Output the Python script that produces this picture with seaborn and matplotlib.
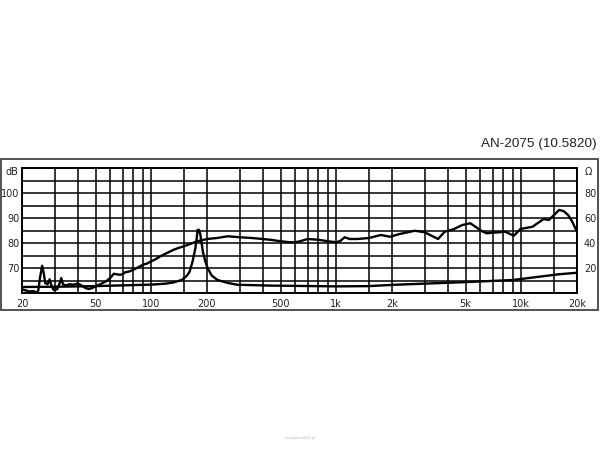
import matplotlib
matplotlib.use('Agg')
import matplotlib.pyplot as plt
from matplotlib.patches import Rectangle
from matplotlib.ticker import NullLocator
import seaborn as sns

# frequency response (left axis, dB)
fr_freq = [20, 21, 22, 23, 24, 24.5, 25, 25.7, 26.2, 26.7, 27.5, 28.2, 29, 29.7, 31, 32, 32.6,
           33.3, 34.5, 36, 38, 40, 42, 44, 46, 48, 50, 53, 57, 60, 62.7, 65, 67.7, 70, 72.3,
           76, 80, 85, 90, 95, 100, 106, 112, 120, 132, 140, 150, 165, 177, 190, 200, 227,
           259, 300, 350, 400, 450, 500, 560, 600, 637, 700, 800, 900, 1000, 1050, 1110,
           1180, 1300, 1500, 1740, 1950, 2200, 2660, 3000, 3550, 3850, 4300, 4800, 5300,
           6100, 6500, 7600, 8200, 9100, 9900, 11500, 13200, 14100, 16000, 16900, 17900,
           18800, 20000]
fr_db = [61.5, 61.0, 60.6, 60.8, 60.2, 61.0, 66.0, 70.9, 68.0, 64.0, 63.5, 65.5, 62.5, 61.2,
         61.5, 64.0, 66.0, 63.5, 63.0, 63.5, 63.3, 63.8, 63.0, 62.0, 61.6, 62.0, 62.7, 63.5,
         64.7, 66.0, 67.7, 67.5, 67.3, 67.5, 68.3, 68.6, 69.3, 70.3, 71.3, 71.8, 72.7, 73.6,
         74.7, 75.8, 77.3, 78.0, 78.7, 79.8, 80.7, 81.2, 81.6, 82.0, 82.7, 82.3, 82.0, 81.6,
         81.2, 80.7, 80.3, 80.3, 80.7, 81.6, 81.3, 80.7, 80.3, 80.8, 82.3, 81.6, 81.6, 82.0,
         83.2, 82.5, 83.6, 84.9, 84.3, 81.6, 84.5, 85.5, 87.2, 87.9, 84.8, 83.9, 84.3, 84.5,
         82.9, 85.6, 86.5, 89.6, 89.2, 93.2, 92.8, 91.2, 88.7, 84.5]

# impedance (right axis, ohm)
imp_freq = [20, 30, 50, 66, 100, 120, 132, 146, 155, 161, 167, 173, 176, 178, 181, 184,
            187, 190, 196, 202, 212, 228, 260, 292, 444, 600, 1000, 1500, 2000, 3000, 4800,
            9000, 16000, 20000]
imp_ohm = [4.8, 5.0, 5.5, 6.0, 6.7, 7.5, 8.5, 10.4, 13.5, 17.0, 25.0, 35.7, 44.0, 50.5, 50.5,
           47.0, 40.0, 33.0, 25.0, 19.7, 14.0, 10.4, 8.0, 6.6, 5.9, 5.7, 5.3, 5.5, 6.5, 7.5,
           8.6, 10.4, 15.0, 16.2]

grid_freqs = [20, 30, 40, 50, 60, 70, 80, 90, 100, 150, 200, 300, 400, 500, 600, 700, 800,
              900, 1000, 1500, 2000, 3000, 4000, 5000, 6000, 7000, 8000, 9000, 10000, 15000,
              20000]
x_labels = {20: '20', 50: '50', 100: '100', 200: '200', 500: '500', 1000: '1k',
            2000: '2k', 5000: '5k', 10000: '10k', 20000: '20k'}
db_labels = [70, 80, 90, 100]
ohm_labels = [20, 40, 60, 80]

sns.set_style('white')
plt.rcParams['font.family'] = ['DejaVu Sans']

fig = plt.figure(figsize=(6, 4.5), dpi=100)
ax = fig.add_axes([22 / 600, 157 / 450, 555 / 600, 125 / 450])

sns.lineplot(x=fr_freq, y=fr_db, ax=ax, color='black', lw=1.7, estimator=None)
ax.set_xscale('log')
ax.set_xlim(20, 20000)
ax.set_ylim(60, 110)
ax.set_xticks(grid_freqs)
ax.set_xticklabels([x_labels.get(f, '') for f in grid_freqs])
ax.xaxis.set_minor_locator(NullLocator())
ax.set_yticks(range(60, 111, 5))
ax.set_yticklabels([str(v) if v in db_labels else '' for v in range(60, 111, 5)])
ax.grid(True, color='black', lw=1.1)
ax.tick_params(length=0, labelsize=7, colors='#222222')
ax.tick_params(axis='x', pad=4)
ax.tick_params(axis='y', pad=2)
ax.text(-0.007, 0.966, 'dB', transform=ax.transAxes, ha='right', va='center',
        fontsize=7, color='#222222')

ax2 = ax.twinx()
sns.lineplot(x=imp_freq, y=imp_ohm, ax=ax2, color='black', lw=1.7, estimator=None)
ax2.set_ylim(0, 100)
ax2.set_yticks(range(0, 101, 10))
ax2.set_yticklabels([str(v) if v in ohm_labels else '' for v in range(0, 101, 10)])
ax2.grid(False)
ax2.tick_params(length=0, labelsize=7, colors='#222222', pad=5)
ax2.set_ylabel('')
ax2.text(1.014, 0.966, 'Ω', transform=ax.transAxes, ha='left', va='center',
         fontsize=7, color='#222222')

for a in (ax, ax2):
    for s in a.spines.values():
        s.set_color('black')
        s.set_linewidth(1.2)

fig.patches.append(Rectangle((0.5 / 600, 140 / 450), 597.5 / 600, 151 / 450,
                             transform=fig.transFigure, fill=False, lw=1.3,
                             edgecolor='#444444'))
fig.text(597 / 600, (450 - 144) / 450, 'AN-2075 (10.5820)', ha='right', va='center',
         fontsize=9.7, family='Liberation Sans', color='#222222')
fig.text(0.5, 12 / 450, 'muzyka.b4t4.pl', ha='center', va='center', fontsize=3,
         color='#bbbbbb')

fig.savefig('out.png', dpi=100, facecolor='white')
